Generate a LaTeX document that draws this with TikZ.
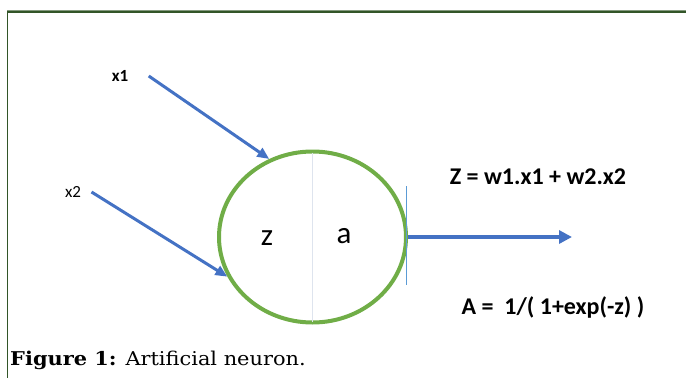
\documentclass[tikz,border=0pt]{standalone}
\usepackage{fontspec}
\setmainfont{DejaVu Serif}
\newfontfamily\calibri{Carlito}
\usepackage{tikz}
\definecolor{neurongreen}{RGB}{112, 173, 71}
\definecolor{arrowblue}{RGB}{68, 114, 196}
\definecolor{tickblue}{RGB}{91, 155, 213}
\definecolor{dividergrey}{RGB}{222, 228, 238}
\definecolor{framegreen}{RGB}{50, 85, 40}
\usetikzlibrary{positioning, shapes.geometric, arrows.meta, calc}

\begin{document}
\begin{tikzpicture}[x=1pt, y=-1pt, >={Triangle[length=12pt, width=10pt]}, every node/.style={font=\calibri}]
    \useasboundingbox (0,0) rectangle (686,378);

    % Frame Lines
    \draw [framegreen!60, line width=0.8pt] (7,10.3) -- (686,10.3);
    \draw [framegreen, line width=2pt] (7,12) -- (686,12);
    \draw [framegreen, line width=1pt] (7.5,12) -- (7.5,378);

    % Neuron Body
    \node [draw=neurongreen, ellipse, line width=4pt, minimum width=187pt, minimum height=171pt, inner sep=0pt] (neuron) at (312.5,237) {};
    \draw [dividergrey, line width=1pt, shorten <=3pt, shorten >=3pt] (neuron.north) -- (neuron.south);
    \node [font=\calibri\fontsize{31}{34}\selectfont] (zsum) at (267,238) {z};
    \node [font=\calibri\fontsize{31}{34}\selectfont] (act) at (344,236) {a};

    % Input Nodes
    \node [font=\calibri\bfseries\fontsize{17}{19}\selectfont] (x1) at (120,76) {x1};
    \node [font=\calibri\fontsize{17}{19}\selectfont] (x2) at (73,192) {x2};

    % Input Arrows
    \draw [->, arrowblue, line width=3pt] ([xshift=17pt]x1.east) -- (neuron.119);
    \draw [->, arrowblue, line width=3pt] ([xshift=7pt]x2.east) -- (neuron.205);

    % Output
    \coordinate (out) at (572,237);
    \draw [tickblue, line width=1pt] ($(neuron.east)+(-2,-51)$) -- ($(neuron.east)+(-2,48)$);
    \draw [->, arrowblue, line width=4pt, >={Triangle[length=13pt, width=13pt]}] (neuron.east) -- (out);

    % Equations
    \node [font=\calibri\bfseries\fontsize{24}{27}\selectfont] (zeq) at (538,177) {Z = w1.x1 + w2.x2};
    \node [font=\calibri\bfseries\fontsize{24}{27}\selectfont] (aeq) at (553,307) {A =\ \ 1/( 1+exp(-z) )};

    % Caption
    \node [anchor=base west, inner sep=0pt, xscale=1.1, transform shape, font=\normalfont\fontsize{19}{22}\selectfont] (caption) at (10,365) {\textbf{Figure 1:} Artificial neuron.};
\end{tikzpicture}
\end{document}
